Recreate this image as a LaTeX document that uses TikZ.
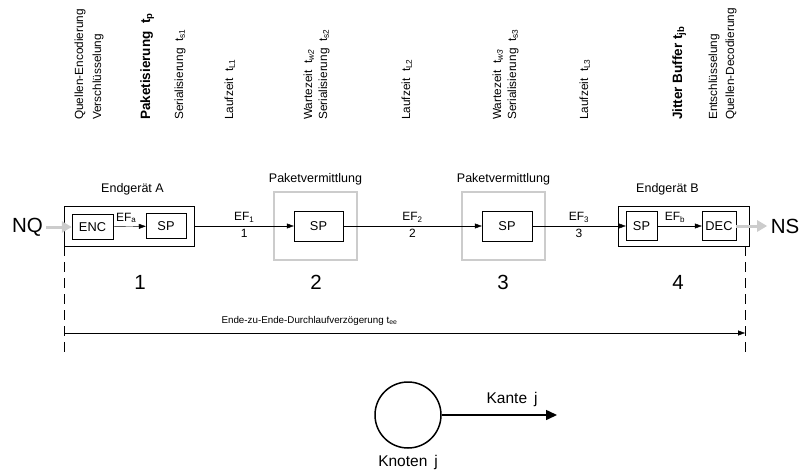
\documentclass[tikz,border=0pt]{standalone}
\usepackage{fontspec}
\setmainfont{Liberation Sans}
\usetikzlibrary{positioning,arrows.meta}

\begin{document}
\begin{tikzpicture}[x=1pt, y=-1pt, ->, >={Triangle[length=7pt,width=5pt]},
  box/.style={draw, minimum height=25pt, inner sep=2pt, font=\fontsize{12.8}{14}\selectfont},
  frame/.style={draw, minimum width=130pt, minimum height=40pt},
  switch/.style={draw=gray!40, line width=2.8pt, minimum width=83pt, minimum height=68pt},
  vlabel/.style={rotate=90, anchor=base west, inner sep=0pt, font=\fontsize{11.8}{13}\selectfont},
  vbold/.style={vlabel, font=\fontsize{13.5}{15}\selectfont\bfseries},
  hlabel/.style={font=\fontsize{12.5}{14}\selectfont},
  num/.style={font=\fontsize{20.5}{22}\selectfont},
  grayarrow/.style={draw=gray!40, line width=3pt, -{Triangle[length=10pt,width=11pt]}},
  every node/.style={font=\fontsize{12}{14}\selectfont}]
  \useasboundingbox (0,0) rectangle (800,476);

  % headings
  \node[vlabel] (qe) at (83,120) {Quellen-Encodierung};
  \node[vlabel] (vs) at (101,120) {Verschlüsselung};
  \node[vbold] (pk) at (150,120) {Paketisierung~~t\textsubscript{p}};
  \node[vlabel] (s1) at (183,120) {Serialisierung~~t\textsubscript{s1}};
  \node[vlabel] (l1) at (233,120) {Laufzeit~~t\textsubscript{L1}};
  \node[vlabel] (w2) at (312,120) {Wartezeit~~t\textsubscript{\itshape w2}};
  \node[vlabel] (s2) at (327,120) {Serialisierung~~t\textsubscript{s2}};
  \node[vlabel] (l2) at (410,120) {Laufzeit~~t\textsubscript{L2}};
  \node[vlabel] (w3) at (501,120) {Wartezeit~~t\textsubscript{\itshape w3}};
  \node[vlabel] (s3) at (516,120) {Serialisierung~~t\textsubscript{s3}};
  \node[vlabel] (l3) at (588,120) {Laufzeit~~t\textsubscript{L3}};
  \node[vbold] (jb) at (682,120) {Jitter Buffer~t\textsubscript{jb}};
  \node[vlabel] (es) at (717,120) {Entschlüsselung};
  \node[vlabel] (qd) at (734,120) {Quellen-Decodierung};

  % devices and switches
  \node[frame] (enda) at (129.5,226) {};
  \node[box, minimum width=41pt] (enc) at (92.5,227) {ENC};
  \node[box, minimum width=40pt] (spa) at (166,226) {SP};
  \node[switch] (sw2) at (315.5,226) {};
  \node[box, minimum width=49pt, minimum height=30pt] (sp2) at (318.5,226) {SP};
  \node[switch] (sw3) at (503.5,226) {};
  \node[box, minimum width=50pt, minimum height=30pt] (sp3) at (507,226) {SP};
  \node[frame, minimum width=131pt] (endb) at (683.5,226) {};
  \node[box, minimum width=31pt, minimum height=29pt] (spb) at (641.5,226) {SP};
  \node[box, minimum width=34pt, minimum height=29pt] (dec) at (719,226) {DEC};

  \node[hlabel] (lba) [above=7pt of enda, xshift=3pt] {Endgerät A};
  \node[hlabel] (lb2) [above=2pt of sw2] {Paketvermittlung};
  \node[hlabel] (lb3) [above=2pt of sw3] {Paketvermittlung};
  \node[hlabel] (lbb) [above=7pt of endb, xshift=-16pt] {Endgerät B};

  \node[num] (nq) at (27.5,227) {NQ};
  \node[num] (ns) at (785,226) {NS};
  \node[num] (n1) at (140,282) {1};
  \node[num] (n2) at (316,282) {2};
  \node[num] (n3) at (503,282) {3};
  \node[num] (n4) at (678,282) {4};

  \coordinate (da1) at (64.5,246);
  \coordinate (da2) at (64.5,356);
  \coordinate (db1) at (745,246);
  \coordinate (db2) at (745,356);
  \coordinate (ee1) at (64.5,333);
  \coordinate (ee2) at (745,333);

  \path
    (enc) edge node [above, pos=0.4] {EF\textsubscript{a}} (spa)
    (enda) edge node [above] {EF\textsubscript{1}} node [below] {1} (sp2)
    (sp2) edge node [above] {EF\textsubscript{2}} node [below] {2} (sp3)
    (sp3) edge node [above] {EF\textsubscript{3}} node [below] {3} (spb)
    (spb) edge node [above, pos=0.4] {EF\textsubscript{b}} (dec)
  ;
  \draw[grayarrow] (nq) -- (enc);
  \draw[grayarrow] (dec) -- (ns);

  \draw[-, dash pattern=on 10pt off 6pt] (da1) -- (da2);
  \draw[-, dash pattern=on 10pt off 6pt] (db1) -- (db2);
  \draw (ee1) -- node [above=4pt, pos=0.36, font=\fontsize{9.8}{11}\selectfont] {Ende-zu-Ende-Durchlaufverzögerung t\textsubscript{ee}} (ee2);

  % legend
  \node[circle, draw, line width=1.5pt, minimum size=66pt] (knoten) at (408,415) {};
  \coordinate (kend) at (557,415);
  \draw[line width=1.5pt, >={Triangle[length=11pt,width=10pt]}] (knoten) -- node [above=4pt, pos=0.61, font=\fontsize{15.5}{17}\selectfont] {Kante~\,j} (kend);
  \node[font=\fontsize{15.5}{17}\selectfont] (lkn) [below=3pt of knoten] {Knoten~\,j};
\end{tikzpicture}
\end{document}
